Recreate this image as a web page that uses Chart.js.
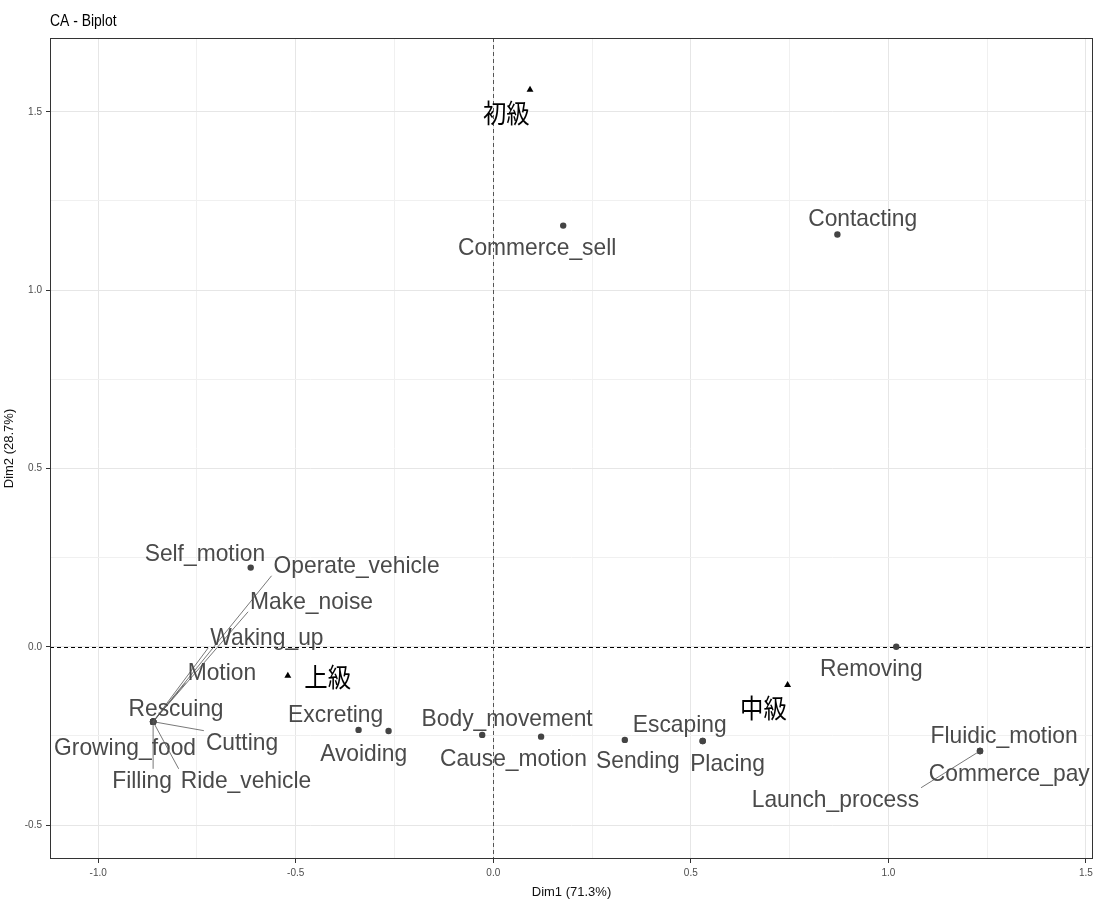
<!DOCTYPE html>
<html>
<head>
<meta charset="utf-8">
<script src="https://cdn.jsdelivr.net/npm/chart.js@4.4.0/dist/chart.umd.min.js"></script>
<style>
  html, body { margin: 0; padding: 0; background: #fff; overflow: hidden; }
  canvas { display: block; }
</style>
</head>
<body>
<canvas id="biplot" width="1097" height="900"></canvas>
<script>
// row points (frames)
const rowNames = [
  "Commerce_sell", "Contacting", "Self_motion",
  "Operate_vehicle", "Make_noise", "Waking_up", "Motion", "Rescuing",
  "Growing_food", "Cutting", "Filling", "Ride_vehicle",
  "Excreting", "Avoiding", "Body_movement", "Cause_motion",
  "Sending", "Escaping", "Placing", "Removing",
  "Fluidic_motion", "Commerce_pay", "Launch_process"
];
const rowDim1 = [
  0.177, 0.871, -0.614,
  -0.861, -0.861, -0.861, -0.861, -0.861,
  -0.861, -0.861, -0.861, -0.861,
  -0.341, -0.265, -0.028, 0.121,
  0.333, 0.530, 0.530, 1.020,
  1.232, 1.232, 1.232
];
const rowDim2 = [
  1.181, 1.156, 0.222,
  -0.210, -0.210, -0.210, -0.210, -0.210,
  -0.210, -0.210, -0.210, -0.210,
  -0.233, -0.236, -0.247, -0.252,
  -0.261, -0.264, -0.264, 0.000,
  -0.292, -0.292, -0.292
];
// repelled label centres, in Dim units
const rowLabelDim1 = [
  0.111, 0.935, -0.730,
  -0.346, -0.460, -0.573, -0.687, -0.803,
  -0.932, -0.636, -0.889, -0.626,
  -0.399, -0.328, 0.035, 0.051,
  0.366, 0.472, 0.593, 0.957,
  1.293, 1.306, 0.866
];
const rowLabelDim2 = [
  1.122, 1.203, 0.266,
  0.230, 0.129, 0.028, -0.070, -0.171,
  -0.278, -0.266, -0.373, -0.373,
  -0.188, -0.295, -0.199, -0.311,
  -0.317, -0.216, -0.325, -0.059,
  -0.247, -0.351, -0.426
];

// column points (levels)
const colNames = ["初級", "中級", "上級"];
const colDim1 = [0.093, 0.745, -0.520];
const colDim2 = [1.562, -0.107, -0.081];
const colLabelDim1 = [0.033, 0.684, -0.419];
const colLabelDim2 = [1.495, -0.171, -0.084];

const xRange = [-1.122, 1.518];
const yRange = [-0.595, 1.707];

const isMajor = v => Math.abs(v * 2 - Math.round(v * 2)) < 1e-6;

function drawText(ctx, text, cx, cy, opts) {
  ctx.font = opts.font;
  const w = ctx.measureText(text).width * opts.squeeze;
  ctx.save();
  ctx.fillStyle = opts.color;
  ctx.textAlign = "left";
  ctx.textBaseline = opts.baseline;
  ctx.translate(cx - w / 2, cy + opts.dy);
  ctx.scale(opts.squeeze, 1);
  ctx.fillText(text, 0, 0);
  ctx.restore();
  return w;
}

// link a label to its point when it sits too far away
function drawSegment(ctx, px, py, cx, cy, w, h) {
  const left = cx - w / 2 - 2, right = cx + w / 2 + 2;
  const top = cy - h, bottom = cy + h;
  const qx = Math.min(Math.max(px, left), right);
  const qy = Math.min(Math.max(py, top), bottom);
  if (Math.hypot(qx - px, qy - py) < 15) return;
  ctx.save();
  ctx.strokeStyle = "#555";
  ctx.lineWidth = 0.8;
  ctx.beginPath();
  ctx.moveTo(px, py);
  ctx.lineTo(qx, qy);
  ctx.stroke();
  ctx.restore();
}

const biplotLayer = {
  id: "biplotLayer",
  beforeDatasetsDraw(chart) {
    const { ctx, chartArea: a, scales: { x, y } } = chart;
    ctx.save();
    ctx.lineWidth = 1;
    ctx.setLineDash([4, 3]);
    const y0 = Math.round(y.getPixelForValue(0)) + 0.5;
    ctx.strokeStyle = "#000";
    ctx.beginPath();
    ctx.moveTo(a.left, y0);
    ctx.lineTo(a.right, y0);
    ctx.stroke();
    const x0 = Math.round(x.getPixelForValue(0)) + 0.5;
    ctx.strokeStyle = "#555";
    ctx.beginPath();
    ctx.moveTo(x0, a.top);
    ctx.lineTo(x0, a.bottom);
    ctx.stroke();
    ctx.restore();
  },
  afterDatasetsDraw(chart) {
    const { ctx, scales: { x, y } } = chart;
    const rowOpts = { font: "24px 'Liberation Sans', Arial, sans-serif", squeeze: 0.95, color: "#4a4a4a", baseline: "alphabetic", dy: 8.6 };
    rowNames.forEach((name, i) => {
      const cx = x.getPixelForValue(rowLabelDim1[i]);
      const cy = y.getPixelForValue(rowLabelDim2[i]);
      ctx.font = rowOpts.font;
      const w = ctx.measureText(name).width * rowOpts.squeeze;
      drawSegment(ctx, x.getPixelForValue(rowDim1[i]), y.getPixelForValue(rowDim2[i]), cx, cy, w, 11);
      drawText(ctx, name, cx, cy, rowOpts);
    });
    const colOpts = { font: "26px 'Noto Sans CJK JP', sans-serif", squeeze: 0.9, color: "#000", baseline: "middle", dy: 0 };
    colNames.forEach((name, i) => {
      drawText(ctx, name, x.getPixelForValue(colLabelDim1[i]), y.getPixelForValue(colLabelDim2[i]), colOpts);
    });
  },
  afterDraw(chart) {
    const { ctx, chartArea: a } = chart;
    ctx.save();
    ctx.strokeStyle = "#333";
    ctx.lineWidth = 1;
    ctx.strokeRect(Math.round(a.left) + 0.5, Math.round(a.top) + 0.5,
      Math.round(a.right - a.left) - 1, Math.round(a.bottom - a.top) - 1);
    ctx.restore();
    // plot title, top-left like ggplot
    ctx.save();
    ctx.font = "16px 'Liberation Sans', Arial, sans-serif";
    ctx.fillStyle = "#000";
    ctx.textBaseline = "alphabetic";
    ctx.translate(a.left, a.top - 12);
    ctx.scale(0.87, 1);
    ctx.fillText("CA - Biplot", 0, 0);
    ctx.restore();
  }
};

function axisOptions(range, titleText, fitFn) {
  return {
    type: "linear",
    min: range[0],
    max: range[1],
    afterFit: fitFn,
    border: { display: false },
    grid: {
      color: c => (c.tick && isMajor(c.tick.value)) ? "#e6e6e6" : "#f0f0f0",
      lineWidth: 1,
      tickLength: 4,
      tickColor: c => (c.tick && isMajor(c.tick.value)) ? "#333" : "rgba(0,0,0,0)"
    },
    ticks: {
      stepSize: 0.25,
      includeBounds: false,
      autoSkip: false,
      maxRotation: 0,
      padding: 4,
      color: "#4d4d4d",
      font: { family: "'Liberation Sans', Arial, sans-serif", size: 10 },
      callback: v => isMajor(v) ? (Math.abs(v) < 1e-9 ? 0 : v).toFixed(1) : ""
    },
    title: {
      display: true,
      text: titleText,
      color: "#111",
      font: { family: "'Liberation Sans', Arial, sans-serif", size: 13 },
      padding: { top: 2, bottom: 0 }
    }
  };
}

new Chart(document.getElementById("biplot"), {
  type: "scatter",
  data: {
    datasets: [
      {
        label: "rows",
        data: rowNames.map((n, i) => ({ x: rowDim1[i], y: rowDim2[i] })),
        pointStyle: "circle",
        pointRadius: 3.2,
        backgroundColor: "#444",
        borderColor: "#444",
        borderWidth: 0
      },
      {
        label: "columns",
        data: colNames.map((n, i) => ({ x: colDim1[i], y: colDim2[i] })),
        pointStyle: "triangle",
        pointRadius: 4,
        backgroundColor: "#000",
        borderColor: "#000",
        borderWidth: 0
      }
    ]
  },
  options: {
    responsive: false,
    animation: false,
    layout: { padding: { top: 38, right: 0, bottom: 0, left: 0 } },
    plugins: {
      legend: { display: false },
      tooltip: { enabled: false },
      title: { display: false }
    },
    scales: {
      x: axisOptions(xRange, "Dim1 (71.3%)", s => { s.height = 41; }),
      y: axisOptions(yRange, "Dim2 (28.7%)", s => { s.width = 50; })
    }
  },
  plugins: [biplotLayer]
});
</script>
</body>
</html>
